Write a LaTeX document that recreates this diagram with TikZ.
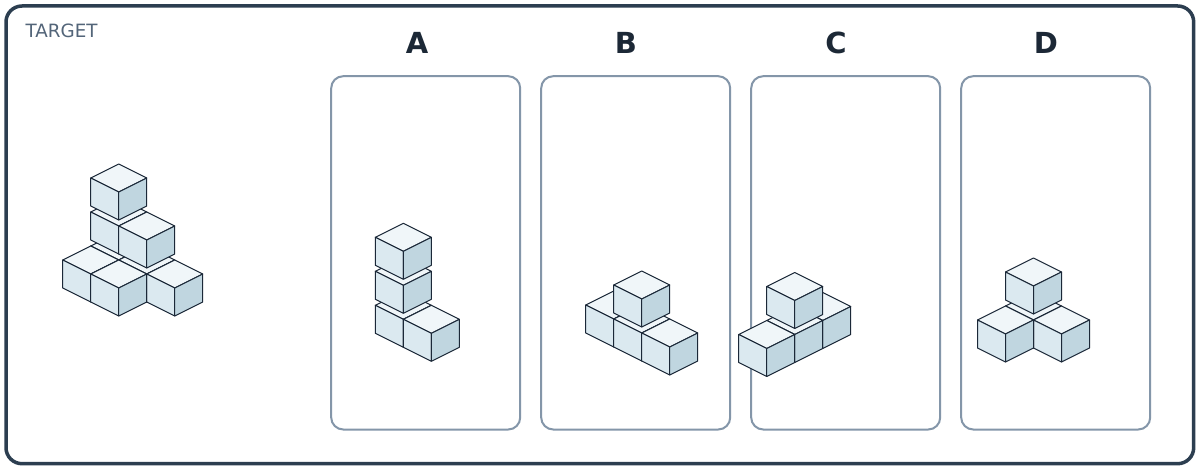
\documentclass[tikz,border=0pt]{standalone}
\usepackage{fontspec}
\setmainfont{DejaVu Sans}

\definecolor{framecol}{HTML}{2C3E50}
\definecolor{panelcol}{HTML}{8496A9}
\definecolor{labelcol}{HTML}{1C2836}
\definecolor{targetcol}{HTML}{536579}
\definecolor{edgecol}{HTML}{1B2838}
\definecolor{topcol}{HTML}{F0F6F9}
\definecolor{leftcol}{HTML}{DBE9F0}
\definecolor{rightcol}{HTML}{C0D6E0}

% one cube at grid place (a,b,c), drawn from its top corner
\newcommand{\isocube}[3]{%
  \begin{scope}[shift={({28*(#1)-28*(#2)},{14*(#1)+14*(#2)-34*(#3)})}]
    \filldraw[topface] (0,0) -- (28,14) -- (0,28) -- (-28,14) -- cycle;
    \filldraw[leftface] (-28,14) -- (0,28) -- (0,56) -- (-28,42) -- cycle;
    \filldraw[rightface] (0,28) -- (28,14) -- (28,42) -- (0,56) -- cycle;
  \end{scope}}

\tikzset{
  cubeedge/.style={draw=edgecol,line width=1pt,line join=round},
  topface/.style={cubeedge,fill=topcol},
  leftface/.style={cubeedge,fill=leftcol},
  rightface/.style={cubeedge,fill=rightcol},
  panelbox/.style={draw=panelcol,line width=2pt,rounded corners=12pt,
    minimum width=189pt,minimum height=353.3pt,inner sep=0pt},
  optlabel/.style={anchor=base,text=labelcol,inner sep=0pt,
    font=\fontsize{29}{32}\selectfont\bfseries}
}

\begin{document}
\begin{tikzpicture}[x=1pt,y=-1pt]

    \useasboundingbox (0,0) rectangle (1200,470);
    \fill[white] (0,0) rectangle (1200,470);
    \draw[framecol,line width=3.5pt,rounded corners=16pt] (6,6) rectangle (1193.7,463.7);

    \node[anchor=base west,inner sep=0pt,text=targetcol,
      font=\fontsize{18.3}{20}\selectfont] (target) at (25.5,37.7) {TARGET};

    \node[panelbox] (pA) at (425.7,252.85) {};
    \node[panelbox] (pB) at (635.7,252.85) {};
    \node[panelbox] (pC) at (845.7,252.85) {};
    \node[panelbox] (pD) at (1055.7,252.85) {};

    \node[optlabel] (lA) at (417,53.5) {A};
    \node[optlabel] (lB) at (626,53.5) {B};
    \node[optlabel] (lC) at (836,53.5) {C};
    \node[optlabel] (lD) at (1046,53.5) {D};

    % target
    \begin{scope}[shift={(90.7,246)}]
    \isocube{0}{-1}{0} \isocube{0}{-1}{1} \isocube{0}{-1}{2}
    \isocube{1}{-1}{0} \isocube{1}{-1}{1} \isocube{0}{0}{0}
    \isocube{2}{-1}{0} \isocube{1}{0}{0}
    \end{scope}

    % A
    \begin{scope}[shift={(403.3,291.3)}]
    \isocube{0}{0}{0} \isocube{0}{0}{1} \isocube{0}{0}{2}
    \isocube{1}{0}{0}
    \end{scope}

    % B
    \begin{scope}[shift={(613.7,291)}]
    \isocube{0}{0}{0} \isocube{1}{0}{0} \isocube{1}{0}{1}
    \isocube{2}{0}{0}
    \end{scope}

    % C
    \begin{scope}[shift={(766.7,320.5)}]
    \isocube{0}{-2}{0} \isocube{0}{-1}{0} \isocube{0}{-1}{1}
    \isocube{0}{0}{0}
    \end{scope}

    % D
    \begin{scope}[shift={(1033.5,292)}]
    \isocube{0}{0}{0} \isocube{0}{0}{1}
    \isocube{1}{0}{0} \isocube{0}{1}{0}
    \end{scope}

\end{tikzpicture}
\end{document}
